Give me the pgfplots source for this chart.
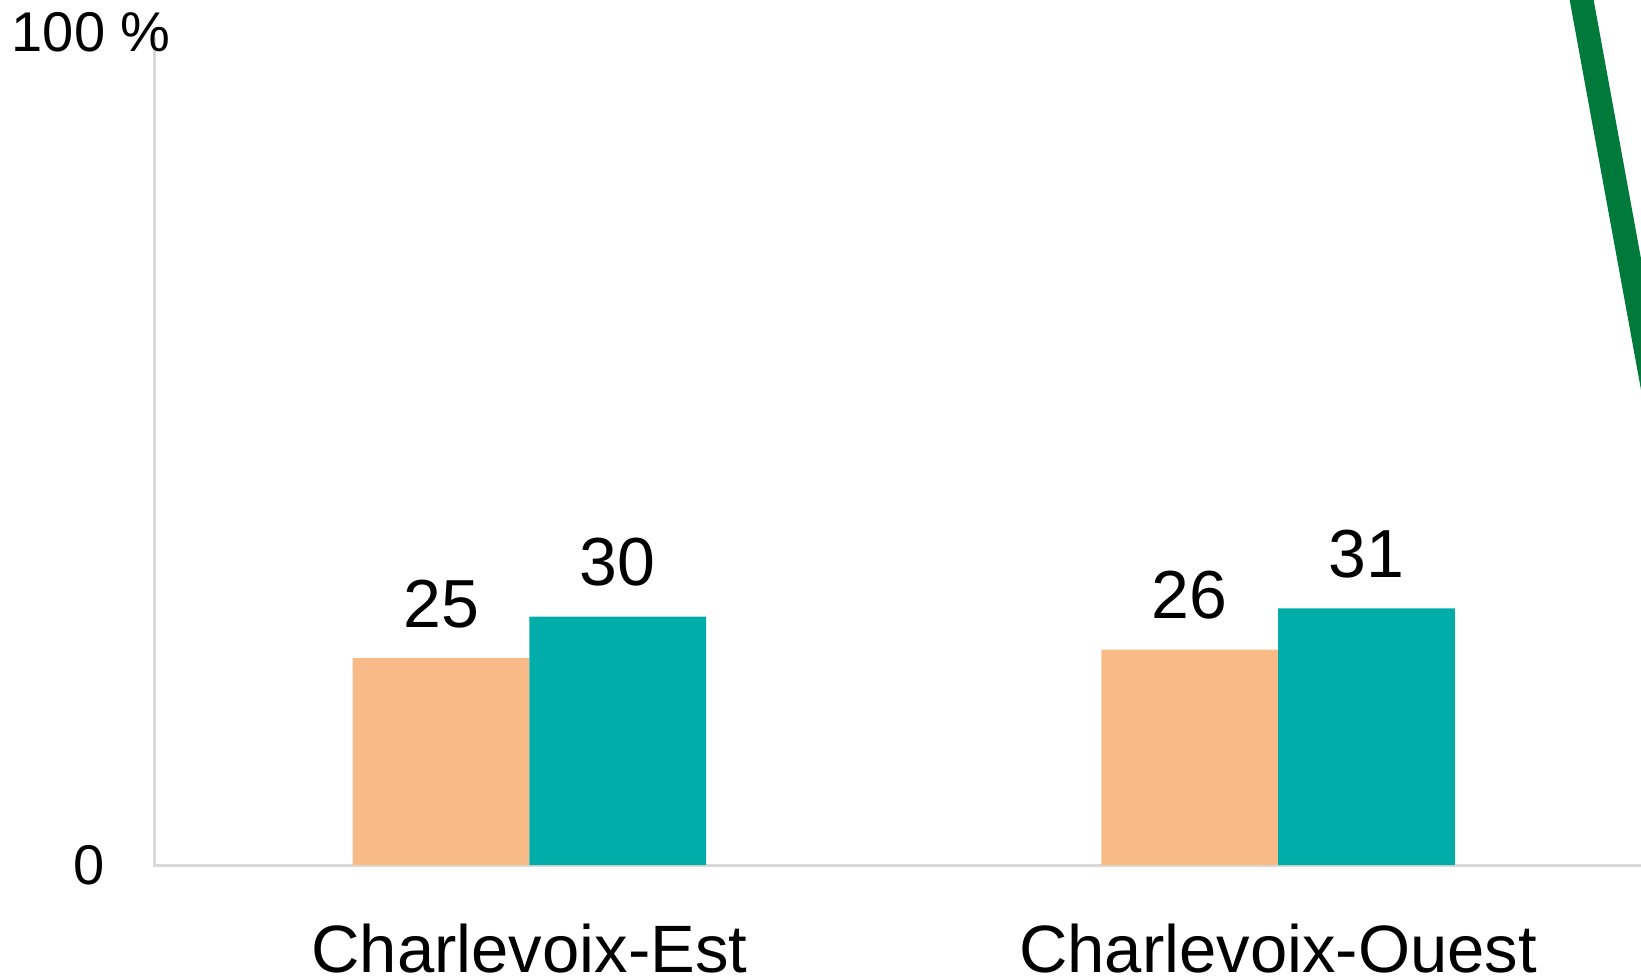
\documentclass[border=0pt]{standalone}
\usepackage{fontspec}
\setmainfont{Liberation Sans}
\usepackage{pgfplots}
\pgfplotsset{compat=1.18}
\usetikzlibrary{calc}
\definecolor{peach}{HTML}{F8BB87}
\definecolor{tealc}{HTML}{00ADA9}
\definecolor{greenl}{HTML}{007A3B}
\definecolor{axgray}{HTML}{D9D9D9}
\begin{document}
\begin{tikzpicture}
\begin{axis}[name=ax, scale only axis, width=743pt, height=432.5pt,
  xmin=-0.5, xmax=1.4846, ymin=0, ymax=104.47,
  clip mode=individual,
  axis line style={draw=none},
  /pgf/number format/assume math mode=true,
  xtick={0,1}, xticklabels={Charlevoix-Est,Charlevoix-Ouest},
  ytick={0}, major tick length=0pt,
  xticklabel style={font=\fontsize{33.5}{40}\selectfont, anchor=base, inner sep=0pt, yshift=-53.5pt},
  yticklabel style={font=\fontsize{28}{34}\selectfont, anchor=east, inner sep=0pt, xshift=-25pt},
  ybar, bar width=0.236,
  nodes near coords,
  nodes near coords style={font=\fontsize{34}{40}\selectfont, anchor=base, inner sep=0pt, yshift=15.5pt},
]
\draw[axgray, line width=1.5pt] (axis cs:-0.5,100) -- (axis cs:-0.5,0) -- (axis cs:1.4846,0);
\addplot[fill=peach, draw=none, bar shift=-0.118] coordinates {(0,25) (1,26)};
\addplot[fill=tealc, draw=none, bar shift=0.118] coordinates {(0,30) (1,31)};
\addplot[sharp plot, greenl, line width=11.8pt, nodes near coords=none, forget plot] coordinates {(1.3,156.5) (1.7,-41.1)};
\node[anchor=east, inner sep=0pt, font=\fontsize{28}{34}\selectfont] at ($(axis cs:-0.5,100)+(8pt,2.5pt)$) {100 \%};
\end{axis}
\pgfresetboundingbox
\path ($(ax.south west)+(-77.5pt,-55.5pt)$) rectangle (ax.north east);
\end{tikzpicture}
\end{document}
